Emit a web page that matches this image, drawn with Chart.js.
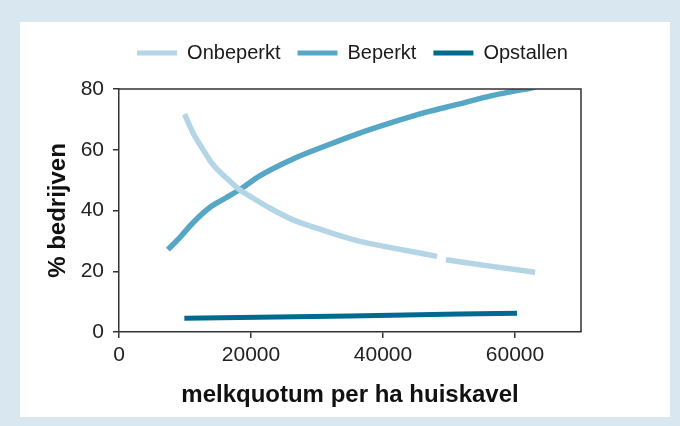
<!DOCTYPE html>
<html>
<head>
<meta charset="utf-8">
<script src="https://cdn.jsdelivr.net/npm/chart.js@4.4.0/dist/chart.umd.min.js"></script>
<style>
  html, body { margin: 0; padding: 0; }
  body { width: 680px; height: 426px; background: #d9e8f0; position: relative; overflow: hidden; }
  #panel { position: absolute; left: 20px; top: 22px; width: 650px; height: 395px; background: #ffffff; }
  #wrap { position: absolute; left: 0; top: 0; width: 680px; height: 426px; }
</style>
</head>
<body>
<div id="panel"></div>
<div id="wrap"><canvas id="chart" width="680" height="426"></canvas></div>
<script>
// series (x = melkquotum per ha, y = % bedrijven)
const onbeperktX = [9930, 11180, 12690, 14200, 16220, 18230, 20240, 22760, 26280, 29820, 32840, 36360, 41390, 48190, 48900, 49550, 56500, 63050];
const onbeperktY = [71.7, 65.7, 60.2, 55.2, 50.8, 46.9, 44.2, 40.9, 37.0, 34.3, 32.1, 29.9, 27.7, 24.9, null, 23.8, 21.6, 19.7];

const beperktX = [7400, 9170, 11180, 13700, 16220, 18730, 21250, 26280, 31330, 36360, 41390, 46430, 51460, 56500, 63050];
const beperktY = [27.1, 31.0, 35.9, 40.9, 44.2, 47.5, 51.3, 56.9, 61.3, 65.4, 69.0, 72.3, 75.0, 77.8, 80.6];

const opstallenX = [9900, 35000, 60300];
const opstallenY = [4.5, 5.3, 6.2];

const labels = ['Onbeperkt', 'Beperkt', 'Opstallen'];
const colors = ['#b3d5e5', '#56a6c6', '#006b8f'];
const widths = [5.5, 5.5, 5];

const xTicks = [0, 20000, 40000, 60000];
const yTicks = [0, 20, 40, 60, 80];

function toPoints(xs, ys) {
    return xs.map((x, i) => ({ x: x, y: ys[i] }));
}

const font = "'Liberation Sans', Arial, sans-serif";

// top and right edges of the plot frame, and legend placement
const frame = {
    id: 'frame',
    afterInit(chart) {
        const legend = chart.legend;
        const fit = legend.fit;
        legend.fit = function () {
            fit.call(this);
            this.height += 16;
        };
    },
    afterLayout(chart) {
        chart.legend.left += 62;
        chart.legend.right += 62;
    },
    afterDraw(chart) {
        const a = chart.chartArea;
        const ctx = chart.ctx;
        ctx.save();
        ctx.strokeStyle = '#333';
        ctx.lineWidth = 1.5;
        ctx.beginPath();
        ctx.moveTo(a.left, a.top);
        ctx.lineTo(a.right, a.top);
        ctx.lineTo(a.right, a.bottom);
        ctx.stroke();
        ctx.restore();
    }
};

const series = [toPoints(onbeperktX, onbeperktY), toPoints(beperktX, beperktY), toPoints(opstallenX, opstallenY)];

new Chart(document.getElementById('chart'), {
    type: 'line',
    data: {
        datasets: series.map((pts, i) => ({
            label: labels[i],
            data: pts,
            borderColor: colors[i],
            backgroundColor: colors[i],
            borderWidth: widths[i],
            borderCapStyle: 'butt',
            pointRadius: 0,
            cubicInterpolationMode: 'monotone',
            spanGaps: false
        }))
    },
    options: {
        responsive: false,
        animation: false,
        layout: { padding: { left: 0, right: 99, top: 26, bottom: 0 } },
        plugins: {
            tooltip: { enabled: false },
            legend: {
                position: 'top',
                labels: {
                    font: { family: font, size: 20 },
                    color: '#1a1a1a',
                    boxWidth: 40,
                    boxHeight: 5,
                    padding: 17,
                    generateLabels(chart) {
                        return chart.data.datasets.map((d, i) => ({
                            text: d.label,
                            fillStyle: d.borderColor,
                            strokeStyle: d.borderColor,
                            lineWidth: 0,
                            fontColor: '#1a1a1a',
                            datasetIndex: i
                        }));
                    }
                }
            }
        },
        scales: {
            x: {
                type: 'linear',
                min: 0,
                max: 70000,
                afterBuildTicks(scale) { scale.ticks = xTicks.map(v => ({ value: v })); },
                afterFit(scale) { scale.height = 94; },
                ticks: { font: { family: font, size: 21 }, color: '#222', padding: 5, maxRotation: 0, callback: v => String(v) },
                grid: { drawOnChartArea: false, tickLength: 6, color: '#333', lineWidth: 1.5 },
                border: { color: '#333', width: 1.5 },
                title: {
                    display: true,
                    text: 'melkquotum per ha huiskavel',
                    font: { family: font, size: 24, weight: 'bold' },
                    color: '#111',
                    padding: { top: 0, bottom: 16 }
                }
            },
            y: {
                min: 0,
                max: 80,
                afterBuildTicks(scale) { scale.ticks = yTicks.map(v => ({ value: v })); },
                afterFit(scale) { scale.width = 119; },
                ticks: { font: { family: font, size: 21 }, color: '#222', padding: 9, callback: v => String(v) },
                grid: { drawOnChartArea: false, tickLength: 6, color: '#333', lineWidth: 1.5 },
                border: { color: '#333', width: 1.5 },
                title: {
                    display: true,
                    text: '% bedrijven',
                    font: { family: font, size: 24, weight: 'bold' },
                    color: '#111',
                    padding: { top: 44, bottom: 0 }
                }
            }
        }
    },
    plugins: [frame]
});
</script>
</body>
</html>
